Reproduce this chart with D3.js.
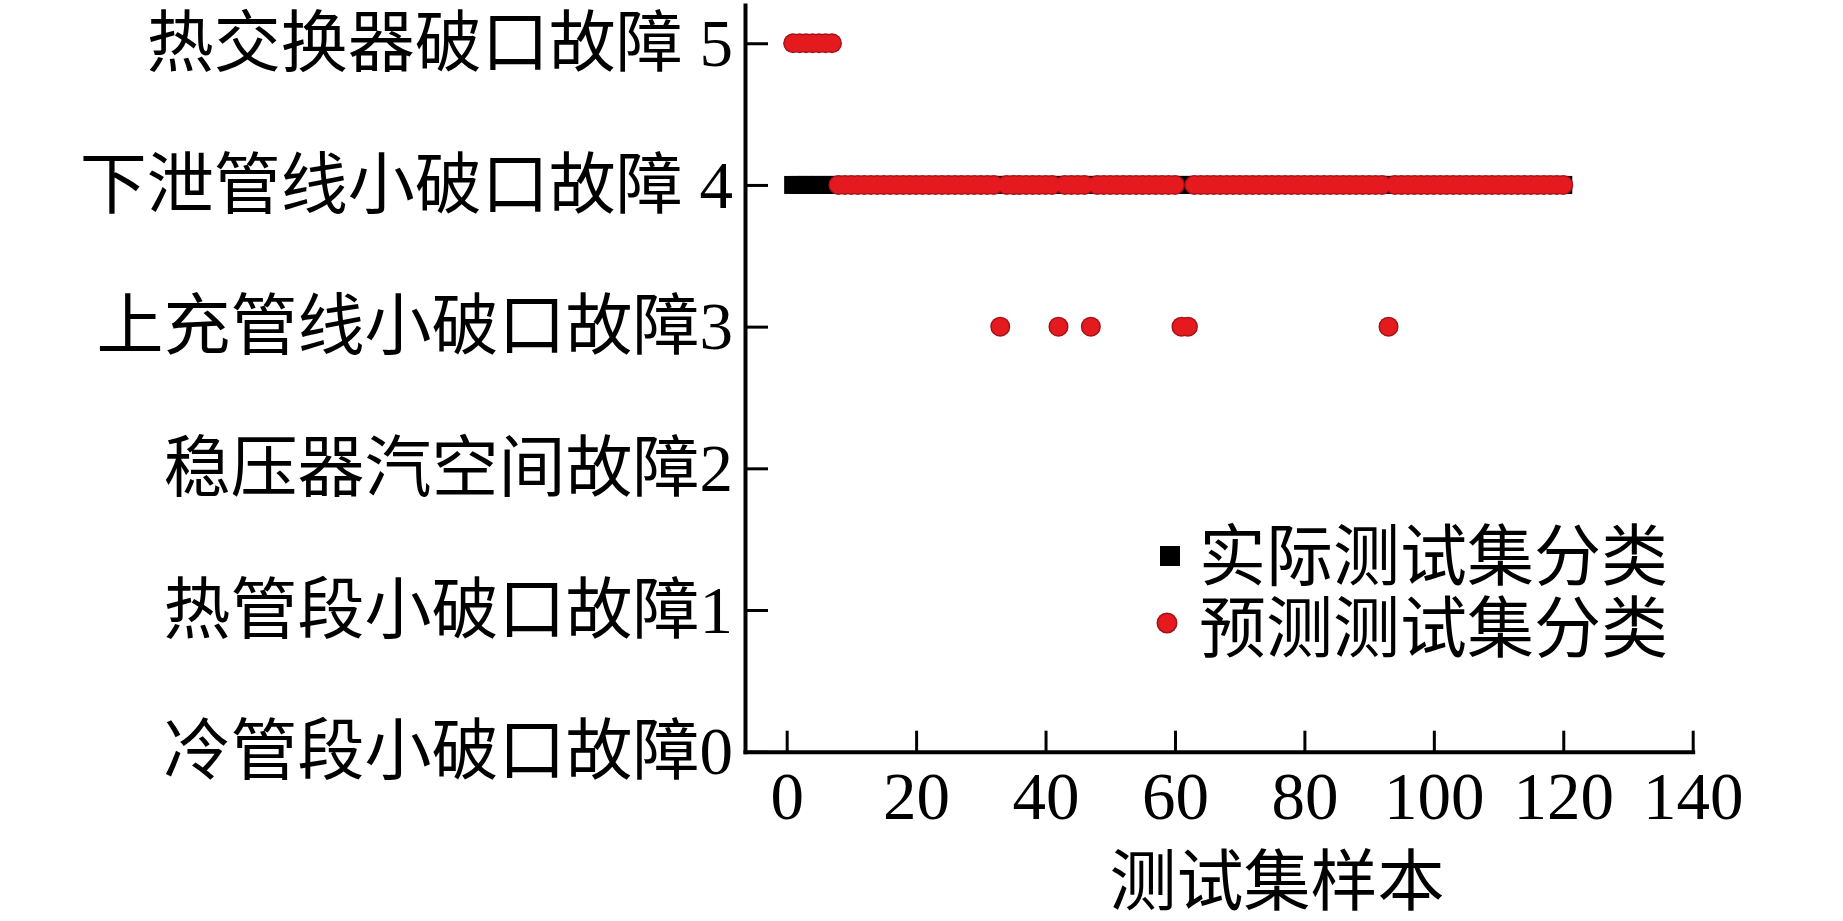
<!DOCTYPE html>
<html>
<head>
<meta charset="utf-8">
<script src="https://cdn.jsdelivr.net/npm/d3@7"></script>
<style>
  html, body { margin: 0; padding: 0; background: #fff; }
  svg { display: block; }
  text { font-family: "Liberation Serif", "Noto Sans CJK SC", serif; fill: #000; }
</style>
</head>
<body>
<svg id="chart" width="1843" height="921"></svg>
<script>
// ---- data ----
const classLabels = [
  "冷管段小破口故障0",
  "热管段小破口故障1",
  "稳压器汽空间故障2",
  "上充管线小破口故障3",
  "下泄管线小破口故障 4",
  "热交换器破口故障 5"
];
const xTicks = [0, 20, 40, 60, 80, 100, 120, 140];
const yTicks = [0, 1, 2, 3, 4, 5];

// actual class of each test sample (samples 1..120)
const actualClass = [
  4,4,4,4,4,4,4,4,4,4,
  4,4,4,4,4,4,4,4,4,4,
  4,4,4,4,4,4,4,4,4,4,
  4,4,4,4,4,4,4,4,4,4,
  4,4,4,4,4,4,4,4,4,4,
  4,4,4,4,4,4,4,4,4,4,
  4,4,4,4,4,4,4,4,4,4,
  4,4,4,4,4,4,4,4,4,4,
  4,4,4,4,4,4,4,4,4,4,
  4,4,4,4,4,4,4,4,4,4,
  4,4,4,4,4,4,4,4,4,4,
  4,4,4,4,4,4,4,4,4,4
];
// predicted class of each test sample (samples 1..120)
const predictedClass = [
  5,5,5,5,5,5,5,4,4,4,
  4,4,4,4,4,4,4,4,4,4,
  4,4,4,4,4,4,4,4,4,4,
  4,4,3,4,4,4,4,4,4,4,
  4,3,4,4,4,4,3,4,4,4,
  4,4,4,4,4,4,4,4,4,4,
  3,3,4,4,4,4,4,4,4,4,
  4,4,4,4,4,4,4,4,4,4,
  4,4,4,4,4,4,4,4,4,4,
  4,4,3,4,4,4,4,4,4,4,
  4,4,4,4,4,4,4,4,4,4,
  4,4,4,4,4,4,4,4,4,4
];
const legendLabels = ["实际测试集分类", "预测测试集分类"];
const xTitle = "测试集样本";

// ---- drawing ----
const svg = d3.select("#chart");
const FONT = 67;
const RED = "#e41a1f", RED_EDGE = "#a3121a";

const x = d3.scaleLinear().domain([-6.44, 140]).range([745, 1692.7]);
const y = d3.scaleLinear().domain([0, 5.27]).range([751.7, 5]);

// actual (black squares)
const sq = 18;
svg.append("g").selectAll("rect")
  .data(actualClass)
  .join("rect")
  .attr("x", (d, i) => x(i + 1) - sq / 2)
  .attr("y", d => y(d) - sq / 2)
  .attr("width", sq).attr("height", sq)
  .attr("fill", "#000");

// predicted (red circles): dark rim layer, then fill layer
svg.append("g").selectAll("circle")
  .data(predictedClass)
  .join("circle")
  .attr("cx", (d, i) => x(i + 1))
  .attr("cy", d => y(d))
  .attr("r", 10)
  .attr("fill", RED_EDGE);
svg.append("g").selectAll("circle")
  .data(predictedClass)
  .join("circle")
  .attr("cx", (d, i) => x(i + 1))
  .attr("cy", d => y(d))
  .attr("r", 8.6)
  .attr("fill", RED);

// axes
const xAxis = d3.axisBottom(x)
  .tickValues(xTicks)
  .tickSizeInner(-21).tickSizeOuter(0)
  .tickPadding(20)
  .tickFormat(d3.format("d"));
const gx = svg.append("g").attr("transform", `translate(0,${y(0)})`).call(xAxis);

const yAxis = d3.axisLeft(y)
  .tickValues(yTicks)
  .tickSizeInner(-23).tickSizeOuter(0)
  .tickPadding(12)
  .tickFormat(d => classLabels[d]);
const gy = svg.append("g").attr("transform", `translate(${x(-6.44)},0)`).call(yAxis);

[gx, gy].forEach(g => {
  g.select(".domain").attr("stroke", "#000").attr("stroke-width", 4).attr("stroke-linecap", "square");
  g.selectAll(".tick line").attr("stroke", "#000").attr("stroke-width", 3);
  g.selectAll(".tick text")
    .attr("font-size", FONT)
    .attr("font-family", "Liberation Serif, Noto Sans CJK SC, serif")
    .attr("fill", "#000");
});
gy.selectAll(".tick text").attr("dy", "0.33em");

// x axis title
svg.append("text")
  .attr("x", 1277).attr("y", 905)
  .attr("text-anchor", "middle")
  .attr("font-size", FONT)
  .text(xTitle);

// legend
const lg = svg.append("g");
lg.append("rect")
  .attr("x", 1170 - 10).attr("y", 556 - 10)
  .attr("width", 20).attr("height", 20)
  .attr("fill", "#000");
lg.append("circle")
  .attr("cx", 1167).attr("cy", 623).attr("r", 10.5)
  .attr("fill", RED_EDGE);
lg.append("circle")
  .attr("cx", 1167).attr("cy", 623).attr("r", 9)
  .attr("fill", RED);
lg.selectAll("text")
  .data(legendLabels)
  .join("text")
  .attr("x", 1199)
  .attr("y", (d, i) => 580 + i * 72)
  .attr("font-size", FONT)
  .text(d => d);
</script>
</body>
</html>
